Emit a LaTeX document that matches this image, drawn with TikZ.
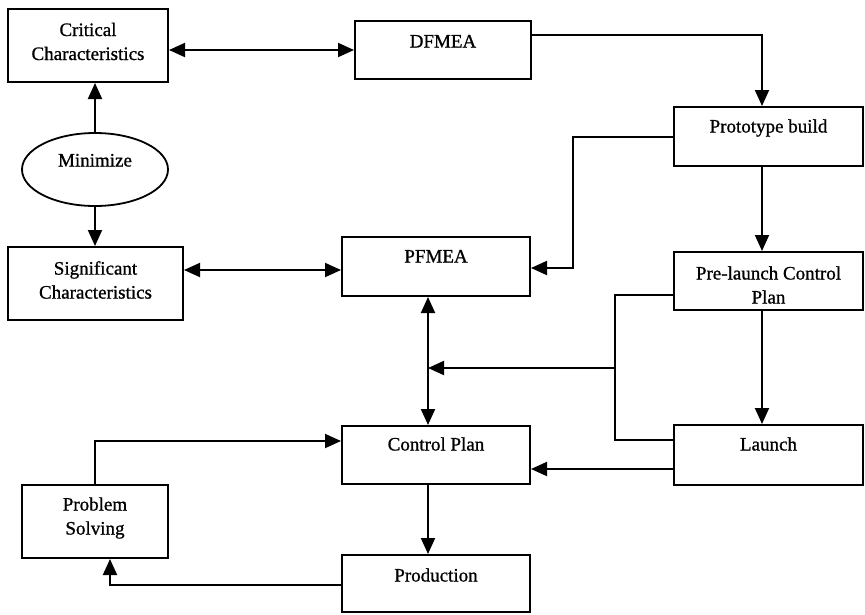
\documentclass[tikz,border=0pt]{standalone}
\usepackage{fontspec}
\setmainfont{Liberation Serif}[FakeBold=0.9]
\usetikzlibrary{arrows.meta,shapes.geometric}

\begin{document}
\begin{tikzpicture}[x=1pt,y=-1pt,
  box/.style={draw, line width=2pt, rectangle, inner sep=0pt},
  oval/.style={draw, line width=1.8pt, ellipse, inner sep=0pt},
  txt/.style={align=center, inner sep=0pt, text height=13pt, text depth=4pt,
              font=\fontsize{19}{24}\selectfont},
  txttwo/.style={align=center, inner sep=0pt, font=\fontsize{19}{24}\selectfont},
  link/.style={line width=1.9pt},
  tip/.tip={Triangle[length=16pt,width=14pt]},
  arr/.style={link, -tip},
  dbl/.style={link, tip-tip}
]
\useasboundingbox (0,0) rectangle (865,614);

% boxes
\node[box, minimum width=160pt, minimum height=73pt] (crit) at (88,45.5) {};
\node[box, minimum width=176pt, minimum height=58pt] (dfmea) at (443,50) {};
\node[box, minimum width=189pt, minimum height=59pt] (proto) at (768.5,136.5) {};
\node[oval, minimum width=146pt, minimum height=73pt] (minimize) at (95,169.5) {};
\node[box, minimum width=175pt, minimum height=73pt] (sig) at (95.5,283.5) {};
\node[box, minimum width=188pt, minimum height=59pt] (pfmea) at (436,266.5) {};
\node[box, minimum width=189pt, minimum height=58pt] (prelaunch) at (768.5,281) {};
\node[box, minimum width=188pt, minimum height=58pt] (cp) at (436,455) {};
\node[box, minimum width=189pt, minimum height=60pt] (launch) at (768.5,455) {};
\node[box, minimum width=146pt, minimum height=73pt] (ps) at (95,521.5) {};
\node[box, minimum width=188pt, minimum height=57pt] (prod) at (436,583.5) {};

% texts
\node[txttwo] (critT) at (88,41.5) {Critical\\Characteristics};
\node[txt] (dfmeaT) at (443,43) {DFMEA};
\node[txt] (protoT) at (768.5,128) {Prototype build};
\node[txt] (minT) at (95,162) {Minimize};
\node[txttwo] (sigT) at (95.5,280) {Significant\\Characteristics};
\node[txt] (pfmeaT) at (436,258) {PFMEA};
\node[txttwo] (preT) at (768.5,285) {Pre-launch Control\\Plan};
\node[txt] (cpT) at (436,446) {Control Plan};
\node[txt] (launchT) at (768.5,446) {Launch};
\node[txttwo] (psT) at (95,518) {Problem\\Solving};
\node[txt] (prodT) at (436,577) {Production};

% routing guides
\coordinate (rcol) at (762,0);
\coordinate (mcol) at (428,0);
\coordinate (r1) at (0,50);
\coordinate (r2) at (0,270);
\coordinate (dfOut) at (0,35);
\coordinate (prOut) at (0,137);
\coordinate (pbend) at (573,268);
\coordinate (plOut) at (0,295);
\coordinate (jx) at (615,440);
\coordinate (jmid) at (615,368);
\coordinate (lOut) at (0,469);
\coordinate (psIn) at (0,441);
\coordinate (prodOut) at (110,585);

% connectors
\draw[dbl] (crit.east |- r1) -- (dfmea.west |- r1);
\draw[arr] (dfmea.east |- dfOut) -| (proto.north -| rcol);
\draw[arr] (proto.west |- prOut) -| (pbend) -- (pbend -| pfmea.east);
\draw[arr] (minimize.north) -- (minimize.north |- crit.south);
\draw[arr] (minimize.south) -- (minimize.south |- sig.north);
\draw[dbl] (sig.east |- r2) -- (pfmea.west |- r2);
\draw[arr] (proto.south -| rcol) -- (prelaunch.north -| rcol);
\draw[arr] (prelaunch.south -| rcol) -- (launch.north -| rcol);
\draw[dbl] (pfmea.south -| mcol) -- (cp.north -| mcol);
\draw[link] (prelaunch.west |- plOut) -| (jx) -- (jx -| launch.west);
\draw[arr] (jmid) -- (jmid -| mcol);
\draw[arr] (launch.west |- lOut) -- (cp.east |- lOut);
\draw[arr] (cp.south -| mcol) -- (prod.north -| mcol);
\draw[arr] (prod.west |- prodOut) -| (prodOut |- ps.south);
\draw[arr] (ps.north) |- (cp.west |- psIn);
\end{tikzpicture}
\end{document}
